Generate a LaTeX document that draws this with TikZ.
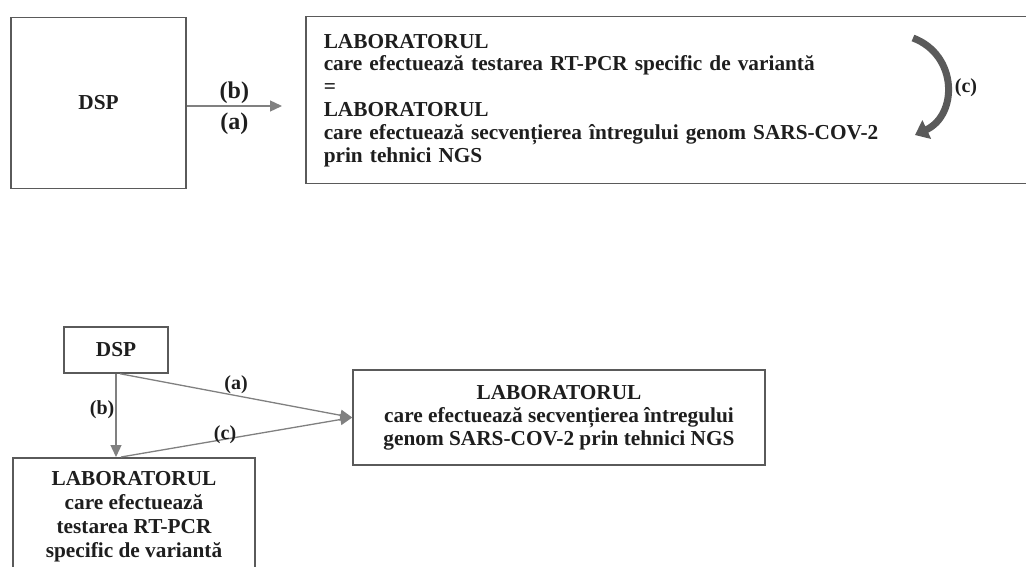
\documentclass[tikz,border=0pt]{standalone}
\usepackage{fontspec}
\setmainfont{Liberation Serif}
\usetikzlibrary{positioning}
\usetikzlibrary{calc}
\usetikzlibrary{arrows.meta}
\definecolor{linegray}{HTML}{808080}
\definecolor{boxgray}{HTML}{5A5A5A}
\definecolor{txtgray}{HTML}{1E1E1E}
\newcommand{\bigtxt}{\fontsize{21.3}{22.8}\selectfont\bfseries}
\tikzset{
    box/.style = {rectangle,draw=boxgray,line width=1.5pt,text=txtgray,font=\bigtxt},
    flow/.style = {draw=linegray,line width=1.3pt,-{Triangle[length=12pt,width=11pt]}},
    lbl/.style = {text=txtgray,font=\fontsize{20}{22}\selectfont\bfseries,inner sep=1pt},
    toplbl/.style = {lbl,font=\fontsize{24}{26}\selectfont\bfseries},
    turn/.style = {draw=boxgray,line width=7pt,-{Triangle[length=13pt,width=20pt]}}}

\begin{document}
\begin{tikzpicture}[x=1pt,y=-1pt]
    \useasboundingbox (0,0) rectangle (1026,567);
    \clip (0,0) rectangle (1026,567);
    % upper scheme
    \node[box,minimum width=175pt,minimum height=171pt] (dspA) at (98.5,103) {DSP};
    \coordinate (tipA) at (282,106);
    \node[box,anchor=north west,minimum height=167pt,text width=720pt,align=left,inner xsep=18pt] (labA) at (305,16)
        {LABORATORUL\\care efectuează testarea RT-PCR specific de variantă\\=\\LABORATORUL\\care efectuează secvențierea întregului genom SARS-COV-2\\prin tehnici NGS};
    \coordinate (loopA) at (913,38);
    \coordinate (loopB) at (915,135);
    \node[lbl] (loopTag) at (966,88) {(c)};
    \draw[flow] (dspA.east |- tipA) -- node[toplbl,above,yshift=1pt] {(b)} node[toplbl,below,yshift=-5pt] {(a)} (tipA);
    \draw[turn] (loopA) .. controls (958,55) and (958,115) .. (loopB);
    % lower scheme
    \node[box,minimum width=104pt,minimum height=46pt] (dspB) at (116,350) {DSP};
    \node[box,minimum width=412pt,minimum height=95pt,align=center] (labR) at (559,417.5)
        {LABORATORUL\\care efectuează secvențierea întregului\\genom SARS-COV-2 prin tehnici NGS};
    \node[box,anchor=north,minimum width=242pt,minimum height=118pt,align=center,font=\fontsize{21.3}{23.8}\selectfont\bfseries] (labL) at (134,457)
        {LABORATORUL\\care efectuează\\testarea RT-PCR\\specific de variantă};
    \coordinate (dropB) at (dspB.south |- labL.north);
    \draw[flow] (dspB.south) -- node[lbl,left,pos=0.43] {(b)} (dropB);
    \draw[flow] ([xshift=4pt]dspB.south) -- node[lbl,above] {(a)} (labR.west);
    \draw[flow] ([xshift=5pt]dropB) -- node[lbl,pos=0.45,yshift=5pt] {(c)} (labR.west);
\end{tikzpicture}
\end{document}
